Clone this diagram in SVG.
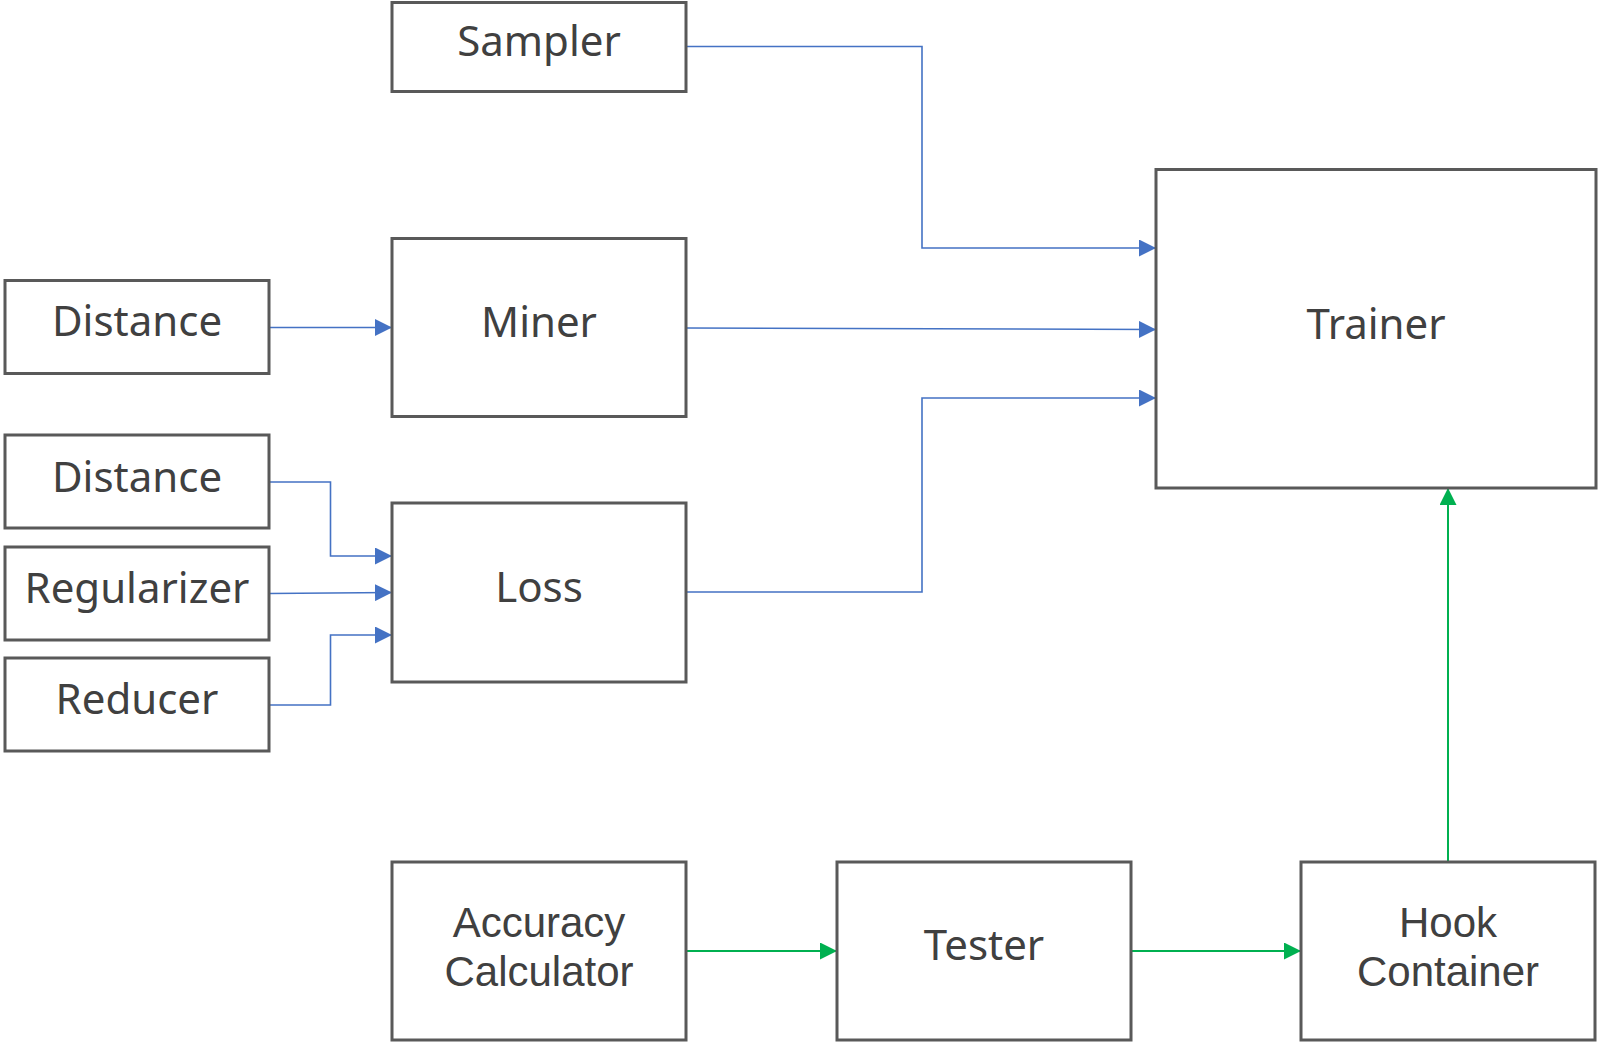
<svg xmlns="http://www.w3.org/2000/svg" width="1600" height="1043" viewBox="0 0 1600 1043">
<defs>
<style>
.box{fill:#ffffff;stroke:#595959;stroke-width:3}
.lbl{font-family:"Noto Sans","DejaVu Sans",sans-serif;font-size:42px;fill:#404040;text-anchor:middle}
.lbl2{font-family:"Liberation Sans",Arial,sans-serif;font-size:42px;fill:#404040;text-anchor:middle}
.blue{fill:none;stroke:#4472C4;stroke-width:1.6}
.green{fill:none;stroke:#00B050;stroke-width:2}
</style>
<marker id="ab" viewBox="0 0 17 17" refX="17" refY="8.5" markerWidth="17" markerHeight="17" markerUnits="userSpaceOnUse" orient="auto">
<path d="M0,0 L17,8.5 L0,17 Z" fill="#4472C4"/>
</marker>
<marker id="ag" viewBox="0 0 17 17" refX="17" refY="8.5" markerWidth="17" markerHeight="17" markerUnits="userSpaceOnUse" orient="auto">
<path d="M0,0 L17,8.5 L0,17 Z" fill="#00B050"/>
</marker>
</defs>
<rect width="1600" height="1043" fill="#ffffff"/>
<g id="connectors">
<path class="blue" d="M686,46.5 H922 V248 H1156" marker-end="url(#ab)"/>
<path class="blue" d="M686,328 L1156,329.5" marker-end="url(#ab)"/>
<path class="blue" d="M686,592 H922 V398 H1156" marker-end="url(#ab)"/>
<path class="blue" d="M269,327.5 H392" marker-end="url(#ab)"/>
<path class="blue" d="M269,482 H330.5 V556 H392" marker-end="url(#ab)"/>
<path class="blue" d="M269,593.5 L392,592.5" marker-end="url(#ab)"/>
<path class="blue" d="M269,705 H330.5 V635 H392" marker-end="url(#ab)"/>
<path class="green" d="M686,951 H837" marker-end="url(#ag)"/>
<path class="green" d="M1131,951 H1301" marker-end="url(#ag)"/>
<path class="green" d="M1448,862 V488" marker-end="url(#ag)"/>
</g>
<g id="sampler"><rect class="box" x="392" y="2.5" width="294" height="89"/><text class="lbl" x="539" y="56">Sampler</text></g>
<g id="miner"><rect class="box" x="392" y="238.5" width="294" height="178"/><text class="lbl" x="539" y="337">Miner</text></g>
<g id="distance1"><rect class="box" x="5" y="280.5" width="264" height="93"/><text class="lbl" x="137" y="336">Distance</text></g>
<g id="distance2"><rect class="box" x="5" y="435" width="264" height="93"/><text class="lbl" x="137" y="491.5">Distance</text></g>
<g id="regularizer"><rect class="box" x="5" y="547" width="264" height="93"/><text class="lbl" x="137" y="603">Regularizer</text></g>
<g id="reducer"><rect class="box" x="5" y="658" width="264" height="93"/><text class="lbl" x="137" y="714">Reducer</text></g>
<g id="loss"><rect class="box" x="392" y="503" width="294" height="179"/><text class="lbl" x="539" y="602">Loss</text></g>
<g id="trainer"><rect class="box" x="1156" y="169.5" width="440" height="318.5"/><text class="lbl" x="1376" y="339">Trainer</text></g>
<g id="accuracy"><rect class="box" x="392" y="862" width="294" height="178"/><text class="lbl2" x="539" y="937">Accuracy</text><text class="lbl2" x="539" y="985.5">Calculator</text></g>
<g id="tester"><rect class="box" x="837" y="862" width="294" height="178"/><text class="lbl" x="984" y="960">Tester</text></g>
<g id="hook"><rect class="box" x="1301" y="862" width="294" height="178"/><text class="lbl2" x="1448" y="936.5">Hook</text><text class="lbl2" x="1448" y="985.5">Container</text></g>
</svg>
